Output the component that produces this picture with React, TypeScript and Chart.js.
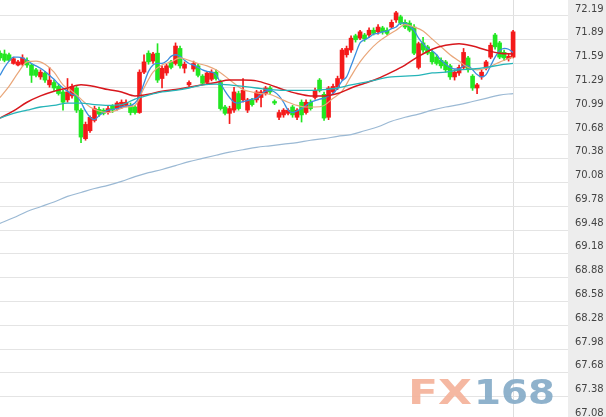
import React, { useEffect, useRef } from "react";
import { Chart, registerables } from "chart.js";

Chart.register(...registerables);

// Right-axis tick labels (top to bottom)
const TICK_LABELS = [
  "72.19", "71.89", "71.59", "71.29", "70.99", "70.68", "70.38", "70.08", "69.78",
  "69.48", "69.18", "68.88", "68.58", "68.28", "67.98", "67.68", "67.38", "67.08",
];
const TICK_TOP = 72.19;
const TICK_BOTTOM = 67.08;
const Y_MIN = 67.123;
const Y_MAX = 72.392;

// Candles (oldest -> newest)
const OPEN = [
  71.72, 71.71, 71.70, 71.59, 71.57, 71.58, 71.63, 71.57, 71.51, 71.42,
  71.47, 71.32, 71.35, 71.30, 71.23, 71.13, 71.18, 71.28, 71.00, 70.64,
  70.74, 70.87, 71.01, 71.00, 70.97, 71.05, 71.02, 71.04, 71.06, 71.06,
  71.04, 70.97, 71.48, 71.72, 71.62, 71.72, 71.40, 71.47, 71.61, 71.59,
  71.78, 71.53, 71.32, 71.52, 71.56, 71.43, 71.35, 71.39, 71.48, 71.35,
  71.04, 70.96, 71.00, 71.21, 71.13, 71.00, 71.13, 71.13, 71.16, 71.21,
  71.28, 71.11, 70.91, 70.94, 70.96, 71.04, 70.91, 71.10, 70.97, 71.10,
  71.16, 71.38, 71.20, 70.91, 71.23, 71.29, 71.40, 71.70, 71.76, 71.94,
  71.91, 71.95, 71.95, 72.01, 71.99, 72.04, 72.01, 72.05, 72.14, 72.18,
  72.11, 72.10, 72.05, 71.54, 71.85, 71.80, 71.73, 71.67, 71.63, 71.61,
  71.56, 71.42, 71.47, 71.54, 71.66, 71.43, 71.28, 71.42, 71.53, 71.67,
  71.95, 71.85, 71.73, 71.65, 71.67,
];
const HIGH = [
  71.75, 71.76, 71.72, 71.67, 71.63, 71.70, 71.66, 71.59, 71.53, 71.51,
  71.49, 71.54, 71.38, 71.33, 71.25, 71.40, 71.33, 71.30, 71.02, 70.85,
  70.93, 71.05, 71.04, 71.02, 71.05, 71.07, 71.11, 71.13, 71.13, 71.09,
  71.06, 71.51, 71.70, 71.75, 71.73, 71.84, 71.56, 71.58, 71.63, 71.85,
  71.81, 71.61, 71.37, 71.62, 71.58, 71.45, 71.49, 71.51, 71.51, 71.38,
  71.06, 71.05, 71.29, 71.24, 71.40, 71.15, 71.15, 71.25, 71.25, 71.30,
  71.30, 71.13, 71.00, 71.02, 71.02, 71.06, 71.02, 71.13, 71.13, 71.13,
  71.28, 71.40, 71.23, 71.30, 71.33, 71.43, 71.78, 71.81, 71.94, 71.96,
  72.01, 71.97, 72.04, 72.04, 72.08, 72.06, 72.04, 72.14, 72.25, 72.20,
  72.14, 72.13, 72.08, 71.86, 71.92, 71.82, 71.76, 71.70, 71.66, 71.63,
  71.58, 71.51, 71.57, 71.78, 71.68, 71.45, 71.34, 71.51, 71.63, 71.85,
  71.97, 71.87, 71.76, 71.71, 72.01,
];
const LOW = [
  71.63, 71.61, 71.62, 71.58, 71.56, 71.56, 71.54, 71.35, 71.42, 71.39,
  71.35, 71.29, 71.25, 71.19, 71.00, 71.10, 71.15, 70.97, 70.59, 70.62,
  70.72, 70.85, 70.92, 70.94, 70.95, 70.97, 71.00, 71.02, 71.04, 70.94,
  70.95, 70.96, 71.46, 71.58, 71.59, 71.35, 71.28, 71.44, 71.52, 71.57,
  71.53, 71.47, 71.30, 71.49, 71.42, 71.32, 71.33, 71.37, 71.38, 71.00,
  70.94, 70.83, 70.97, 71.00, 71.10, 70.97, 71.05, 71.10, 71.04, 71.19,
  71.20, 71.07, 70.88, 70.91, 70.94, 70.91, 70.88, 70.85, 70.95, 71.00,
  71.14, 71.23, 70.87, 70.88, 71.20, 71.26, 71.38, 71.67, 71.73, 71.86,
  71.89, 71.87, 71.92, 71.95, 71.96, 71.96, 71.95, 72.03, 72.11, 72.08,
  72.03, 71.99, 71.70, 71.52, 71.73, 71.70, 71.58, 71.57, 71.53, 71.48,
  71.39, 71.38, 71.44, 71.52, 71.48, 71.25, 71.21, 71.39, 71.51, 71.65,
  71.77, 71.65, 71.63, 71.62, 71.66,
];
const CLOSE = [
  71.66, 71.63, 71.63, 71.65, 71.61, 71.66, 71.57, 71.44, 71.44, 71.48,
  71.38, 71.38, 71.28, 71.21, 71.10, 71.23, 71.30, 71.00, 70.66, 70.82,
  70.91, 71.02, 70.95, 70.96, 71.02, 71.00, 71.09, 71.10, 71.10, 70.97,
  70.97, 71.48, 71.61, 71.61, 71.71, 71.38, 71.53, 71.56, 71.54, 71.81,
  71.56, 71.58, 71.35, 71.59, 71.44, 71.34, 71.47, 71.48, 71.40, 71.02,
  70.96, 71.02, 71.23, 71.02, 71.25, 71.13, 71.07, 71.23, 71.23, 71.28,
  71.23, 71.09, 70.97, 71.00, 71.00, 70.94, 71.00, 70.94, 71.10, 71.02,
  71.25, 71.25, 70.90, 71.28, 71.30, 71.40, 71.76, 71.78, 71.91, 71.89,
  71.99, 71.90, 72.01, 71.97, 72.05, 71.99, 71.97, 72.11, 72.23, 72.10,
  72.05, 72.01, 71.72, 71.84, 71.76, 71.72, 71.61, 71.59, 71.56, 71.51,
  71.42, 71.48, 71.54, 71.73, 71.51, 71.28, 71.32, 71.48, 71.61, 71.82,
  71.80, 71.67, 71.66, 71.68, 71.99,
];

// Moving averages
const MA5 = [
  71.44, 71.54, 71.62, 71.67, 71.67, 71.66, 71.63, 71.59, 71.56, 71.53,
  71.49, 71.44, 71.39, 71.33, 71.28, 71.24, 71.20, 71.18, 71.10, 70.99,
  70.91, 70.88, 70.93, 70.97, 71.00, 71.01, 71.02, 71.04, 71.05, 71.06,
  71.09, 71.18, 71.34, 71.49, 71.57, 71.59, 71.59, 71.62, 71.68, 71.70,
  71.68, 71.63, 71.59, 71.57, 71.54, 71.51, 71.49, 71.48, 71.45, 71.34,
  71.24, 71.16, 71.10, 71.09, 71.11, 71.12, 71.14, 71.15, 71.20, 71.24,
  71.25, 71.23, 71.18, 71.10, 71.00, 70.97, 70.99, 71.02, 71.06, 71.10,
  71.12, 71.14, 71.15, 71.18, 71.21, 71.28, 71.37, 71.42, 71.56, 71.71,
  71.85, 71.89, 71.92, 71.96, 71.97, 71.99, 72.00, 72.03, 72.05, 72.10,
  72.10, 72.06, 72.01, 71.91, 71.84, 71.78, 71.75, 71.70, 71.63, 71.58,
  71.54, 71.52, 71.52, 71.56, 71.56, 71.51, 71.45, 71.42, 71.45, 71.56,
  71.67, 71.75, 71.78, 71.77, 71.73,
];
const MA10_STEP = 2;
const MA10 = [
  71.16, 71.30, 71.47, 71.61, 71.62, 71.58, 71.48, 71.32, 71.24, 71.14,
  71.04, 70.99, 70.97, 71.00, 71.04, 71.06, 71.28, 71.48, 71.57, 71.61,
  71.66, 71.63, 71.59, 71.56, 71.51, 71.43, 71.34, 71.26, 71.23, 71.21,
  71.20, 71.15, 71.10, 71.06, 71.04, 71.04, 71.06, 71.15, 71.24, 71.43,
  71.61, 71.75, 71.86, 71.94, 72.01, 72.08, 72.05, 72.00, 71.90, 71.80,
  71.70, 71.62, 71.54, 71.51, 71.53, 71.58, 71.63, 71.67,
];
const MA_STEP = 3;
const MA20 = [
  70.90, 70.99, 71.10, 71.18, 71.24, 71.28, 71.32, 71.30, 71.26, 71.23,
  71.18, 71.20, 71.24, 71.26, 71.29, 71.32, 71.35, 71.38, 71.38, 71.37,
  71.32, 71.26, 71.21, 71.18, 71.18, 71.21, 71.28, 71.34, 71.40, 71.48,
  71.57, 71.68, 71.77, 71.82, 71.84, 71.81, 71.76, 71.72, 71.71,
];
const MA30 = [
  70.90, 70.96, 71.00, 71.04, 71.06, 71.09, 71.09, 71.07, 71.06, 71.07,
  71.14, 71.19, 71.23, 71.25, 71.28, 71.32, 71.33, 71.32, 71.30, 71.28,
  71.26, 71.25, 71.25, 71.25, 71.26, 71.28, 71.32, 71.35, 71.39, 71.42,
  71.43, 71.44, 71.47, 71.48, 71.51, 71.52, 71.54, 71.57, 71.59,
];
const MA_LONG = [
  69.57, 69.64, 69.72, 69.78, 69.84, 69.91, 69.96, 70.01, 70.05, 70.10,
  70.16, 70.21, 70.25, 70.30, 70.35, 70.39, 70.43, 70.47, 70.50, 70.53,
  70.55, 70.57, 70.59, 70.62, 70.64, 70.67, 70.69, 70.74, 70.79, 70.86,
  70.91, 70.95, 71.00, 71.04, 71.07, 71.11, 71.15, 71.19, 71.21,
];

const X_MAX = 126.2; // visible index range (empty slots to the right of the last candle)
const UP = "#f41a1a";
const DOWN = "#22e622";

const bgPlugin = {
  id: "bgPanel",
  beforeDraw(chart: any) {
    const { ctx, chartArea, width, height } = chart;
    ctx.save();
    ctx.fillStyle = "#ffffff";
    ctx.fillRect(0, 0, width, height);
    ctx.fillStyle = "#ededed";
    ctx.fillRect(chartArea.right, 0, width - chartArea.right, height);
    ctx.restore();
  },
};

function drawStretched(ctx: CanvasRenderingContext2D, text: string, x: number, y: number, w: number, color: string) {
  const m = ctx.measureText(text).width;
  ctx.save();
  ctx.translate(x, y);
  ctx.scale(w / m, 1);
  ctx.fillStyle = color;
  ctx.fillText(text, 0, 0);
  ctx.restore();
}

const watermarkPlugin = {
  id: "watermark",
  afterDraw(chart: any) {
    const ctx = chart.ctx as CanvasRenderingContext2D;
    ctx.save();
    ctx.globalAlpha = 0.92;
    ctx.textBaseline = "alphabetic";
    ctx.font = 'bold 34px "DejaVu Sans"';
    drawStretched(ctx, "FX", 408, 404, 64, "#f4b29a");
    drawStretched(ctx, "168", 474, 404, 81, "#86abc8");
    ctx.restore();
  },
};

export default function App() {
  const ref = useRef<HTMLCanvasElement>(null);

  useEffect(() => {
    document.body.style.margin = "0";
    const canvas = ref.current;
    if (!canvas) return;
    const idx = CLOSE.map((_, i) => i);
    const colors = idx.map((i) => (CLOSE[i] >= OPEN[i] ? UP : DOWN));
    const lastIndex = CLOSE.length - 1;
    const tickStep = (TICK_TOP - TICK_BOTTOM) / (TICK_LABELS.length - 1);

    const line = (vals: number[], step: number, color: string, width: number) => ({
      type: "line" as const,
      data: vals.map((v, k) => ({ x: k * step, y: v })),
      borderColor: color,
      borderWidth: width,
      pointRadius: 0,
      cubicInterpolationMode: "monotone" as const,
      fill: false,
      order: 0,
    });

    const chart = new Chart(canvas, {
      type: "bar",
      data: {
        datasets: [
          line(MA_LONG, MA_STEP, "#9bb9d4", 1.2),
          line(MA30, MA_STEP, "#25b4b8", 1.3),
          line(MA20, MA_STEP, "#d8171d", 1.5),
          line(MA10, MA10_STEP, "#e9a679", 1.2),
          line(MA5, 1, "#3a8ddf", 1.3),
          {
            type: "bar" as const,
            data: idx.map((i) => ({ x: i, y: [OPEN[i], CLOSE[i]] })) as any,
            backgroundColor: colors,
            barThickness: 4,
            minBarLength: 1,
            grouped: false,
            order: 1,
          },
          {
            type: "bar" as const,
            data: idx.map((i) => ({ x: i, y: [LOW[i], HIGH[i]] })) as any,
            backgroundColor: colors,
            barThickness: 1,
            grouped: false,
            order: 2,
          },
        ] as any,
      },
      options: {
        animation: false,
        responsive: false,
        maintainAspectRatio: false,
        layout: { padding: 0 },
        plugins: { legend: { display: false }, tooltip: { enabled: false } },
        scales: {
          x: {
            type: "linear",
            min: 0,
            max: X_MAX,
            offset: false,
            afterBuildTicks: (s: any) => {
              s.ticks = [{ value: lastIndex }];
            },
            afterFit: (s: any) => {
              s.height = 0;
              s.paddingLeft = 0;
              s.paddingRight = 0;
            },
            ticks: { display: false },
            grid: { color: "#dedede", drawTicks: false, offset: false, lineWidth: 1 },
            border: { display: false },
          },
          y: {
            type: "linear",
            position: "right",
            min: Y_MIN,
            max: Y_MAX,
            bounds: "data",
            afterBuildTicks: (s: any) => {
              s.ticks = TICK_LABELS.map((_, k) => ({ value: TICK_TOP - k * tickStep }));
            },
            afterFit: (s: any) => {
              s.width = 38;
              s.paddingTop = 0;
              s.paddingBottom = 0;
            },
            ticks: {
              callback: (_v: any, i: number) => TICK_LABELS[i],
              padding: 7,
              labelOffset: -7,
              color: "#444444",
              autoSkip: false,
              font: { family: "DejaVu Sans", size: 10 },
            },
            grid: { color: "#e4e4e4", drawTicks: false, lineWidth: 1 },
            border: { display: false },
          },
        },
      } as any,
      plugins: [bgPlugin, watermarkPlugin],
    });
    return () => chart.destroy();
  }, []);

  return (
    <div style={{ width: 606, height: 417 }}>
      <canvas ref={ref} width={606} height={417} style={{ display: "block" }} />
    </div>
  );
}
